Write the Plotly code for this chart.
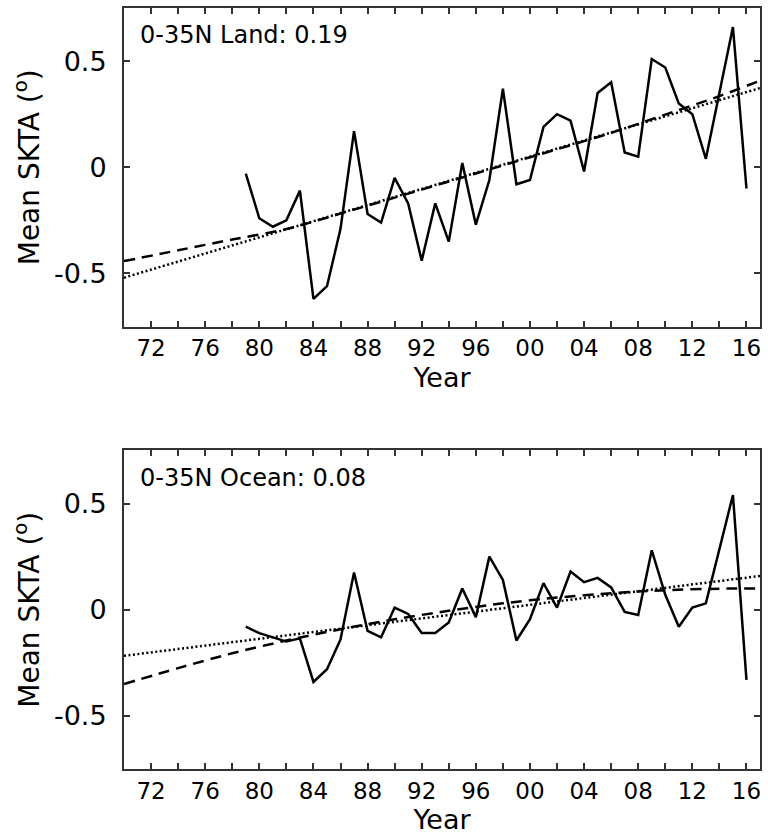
import plotly.graph_objects as go

# Annual mean skin temperature anomalies, 0-35N
years = list(range(1979, 2017))
land_skta = [-0.03, -0.24, -0.28, -0.25, -0.11, -0.62, -0.56, -0.29, 0.17, -0.22,
             -0.26, -0.05, -0.17, -0.44, -0.17, -0.35, 0.02, -0.27, -0.06, 0.37,
             -0.08, -0.06, 0.19, 0.25, 0.22, -0.02, 0.35, 0.40, 0.07, 0.05,
             0.51, 0.47, 0.30, 0.25, 0.04, 0.35, 0.66, -0.10]
ocean_skta = [-0.08, -0.11, -0.13, -0.15, -0.135, -0.34, -0.28, -0.14, 0.175, -0.10,
              -0.13, 0.01, -0.02, -0.11, -0.11, -0.06, 0.10, -0.035, 0.25, 0.14,
              -0.145, -0.045, 0.125, 0.01, 0.18, 0.13, 0.15, 0.105, -0.01, -0.025,
              0.28, 0.07, -0.08, 0.01, 0.03, 0.28, 0.54, -0.33]

# Linear trends (per decade) and their value at the start of the axis
land_trend_per_decade = 0.19
ocean_trend_per_decade = 0.08
land_trend_1970 = -0.52
ocean_trend_1970 = -0.217
trend_years = [1970, 2017]

# Non-linear fitted curves
curve_years = [1970, 1974, 1978, 1982, 1986, 1990, 1994, 1998, 2002, 2006, 2010, 2014, 2017]
land_curve = [-0.442, -0.391, -0.340, -0.291, -0.218, -0.143, -0.067, 0.009, 0.085,
              0.162, 0.248, 0.335, 0.408]
ocean_curve = [-0.350, -0.275, -0.205, -0.145, -0.092, -0.045, -0.005, 0.030, 0.057,
               0.078, 0.092, 0.099, 0.100]

panel_labels = ["0-35N Land: 0.19", "0-35N Ocean: 0.08"]

x_tick_years = list(range(1970, 2017, 2))
x_tick_text = [f"{y % 100:02d}" if y % 4 == 0 and y > 1970 else "" for y in x_tick_years]
y_tick_vals = [-0.5, 0, 0.5]
y_tick_text = ["-0.5", "0", "0.5"]

FONT = "DejaVu Sans"
FRAME = "#333333"

fig = go.Figure()

panels = [
    ("x", "y", land_skta, land_trend_per_decade, land_trend_1970, land_curve),
    ("x2", "y2", ocean_skta, ocean_trend_per_decade, ocean_trend_1970, ocean_curve),
]
for xa, ya, series, per_dec, start, curve in panels:
    trend_vals = [start + per_dec / 10.0 * (yr - trend_years[0]) for yr in trend_years]
    fig.add_trace(go.Scatter(x=curve_years, y=curve, mode="lines", xaxis=xa, yaxis=ya,
                             line=dict(color="black", width=2.5, dash="11px,7px",
                                       shape="spline", smoothing=0.8),
                             showlegend=False, hoverinfo="skip"))
    fig.add_trace(go.Scatter(x=trend_years, y=trend_vals, mode="lines", xaxis=xa, yaxis=ya,
                             line=dict(color="black", width=2.5, dash="2px,2.5px"),
                             showlegend=False, hoverinfo="skip"))
    fig.add_trace(go.Scatter(x=years, y=series, mode="lines", xaxis=xa, yaxis=ya,
                             line=dict(color="black", width=2.5),
                             showlegend=False))

xaxis_common = dict(
    range=[1970, 2017], tickmode="array", tickvals=x_tick_years, ticktext=x_tick_text,
    ticks="inside", ticklen=6, tickwidth=1.5, tickcolor=FRAME,
    showline=True, linecolor=FRAME, linewidth=2, mirror="ticks",
    showgrid=False, zeroline=False,
    tickfont=dict(family=FONT, size=23, color="black"),
    title=dict(text="Year", font=dict(family=FONT, size=27, color="black"), standoff=8),
)
yaxis_common = dict(
    range=[-0.75, 0.75], tickmode="array", tickvals=y_tick_vals, ticktext=y_tick_text,
    ticks="inside", ticklen=6, tickwidth=1.5, tickcolor=FRAME,
    showline=True, linecolor=FRAME, linewidth=2, mirror="ticks",
    showgrid=False, zeroline=False, ticklabelstandoff=10,
    tickfont=dict(family=FONT, size=27, color="black"),
    title=dict(text="Mean SKTA (<sup>o</sup>)", font=dict(family=FONT, size=28, color="black"),
               standoff=6),
)

fig.update_layout(
    width=768, height=839,
    margin=dict(l=124, r=6, t=7, b=70),
    paper_bgcolor="white", plot_bgcolor="white",
    xaxis=dict(xaxis_common, domain=[0, 1], anchor="y"),
    yaxis=dict(yaxis_common, domain=[0.5814, 1], anchor="x"),
    xaxis2=dict(xaxis_common, domain=[0, 1], anchor="y2"),
    yaxis2=dict(yaxis_common, domain=[0, 0.4186], anchor="x2"),
)

for ya, label in zip(["y", "y2"], panel_labels):
    fig.add_annotation(text=label, xref="x domain" if ya == "y" else "x2 domain",
                       yref=f"{ya} domain", x=0.022, y=0.915, xanchor="left",
                       yanchor="middle", showarrow=False,
                       font=dict(family=FONT, size=24, color="black"))

fig.write_html("out.html")
